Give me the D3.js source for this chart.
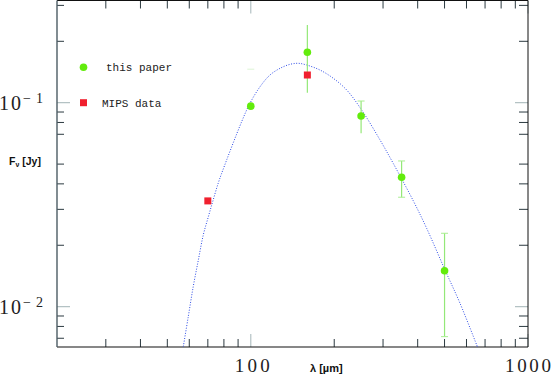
<!DOCTYPE html>
<html>
<head>
<meta charset="utf-8">
<script src="https://cdn.jsdelivr.net/npm/d3@7/dist/d3.min.js"></script>
<style>
body { margin: 0; background: #fff; }
</style>
</head>
<body>
<div id="graph"></div>
<script>
// green points, this paper (wavelength um, flux Jy, error bar ends)
var paperWave = [100, 160, 250, 350, 500];
var paperFlux = [0.0962, 0.1766, 0.0861, 0.0431, 0.0150];
var paperErrHi = [0.146, 0.2404, 0.1019, 0.0518, 0.0229];
var paperErrLo = [0.0962, 0.1119, 0.0708, 0.0344, 0.00713];

// red squares, MIPS
var mipsWave = [70, 160];
var mipsFlux = [0.033, 0.1367];

// fitted curve
var fitWave = [57.1, 59.5, 62.0, 64.7, 67.4, 70.3, 73.2, 76.3, 79.2, 92.7, 99.3, 108.0, 117.3, 127.5, 138.5, 148.4, 159.1, 177.7, 198.5, 221.8, 251.2, 292.5, 326.8, 385.8, 431.1, 501.9, 568.5, 656.5];
var fitFlux = [0.00637, 0.00893, 0.01253, 0.01694, 0.02246, 0.0276, 0.0334, 0.0403, 0.0465, 0.0807, 0.0993, 0.1198, 0.1367, 0.1474, 0.1542, 0.1560, 0.1530, 0.1446, 0.1317, 0.1154, 0.0921, 0.0657, 0.0503, 0.0330, 0.0242, 0.01513, 0.01039, 0.00637];

// ticks
var xMajorTicks = [100, 1000];
var xMinorTicks = [30, 40, 50, 60, 70, 80, 90, 200, 300, 400, 500, 600, 700, 800, 900];
var yMajorTicks = [0.1, 0.01];
var yMinorTicks = [0.3, 0.2, 0.09, 0.08, 0.07, 0.05, 0.04, 0.03, 0.02, 0.009, 0.008, 0.007];
var xTickLabels = ['100', '1000'];
var yTickLabels = ['\u22121', '\u22122'];

var legendLabels = ['this paper', 'MIPS data'];

var sed_plot = {
	init: function () {
		var self = this;
		self.left = 57;
		self.right = 528;
		self.top = 0.5;
		self.bottom = 347;
		self.svg = d3.select('#graph').append('svg')
			.attr('width', 553)
			.attr('height', 376);
		self.x = d3.scaleLog().domain([20, 1000]).range([self.left, self.right]);
		self.y = d3.scaleLog().domain([0.006342, 0.3170]).range([self.bottom, self.top]);
		self.drawFrame();
		self.drawData();
		self.drawLegend();
	},
	drawFrame: function () {
		var self = this;
		var svg = self.svg, x = self.x, y = self.y;
		var minorLen = 8, majorLen = 13;
		var g = svg.append('g').attr('class', 'ticks');

		// bottom + top
		g.selectAll('.xmin').data(xMinorTicks).enter().append('path')
			.attr('d', function (d) {
				var px = x(d);
				return 'M' + px + ',' + self.bottom + 'V' + (self.bottom - minorLen) +
					'M' + px + ',' + self.top + 'V' + (self.top + minorLen);
			})
			.attr('stroke', '#2c3a40').attr('stroke-width', 1);
		g.selectAll('.xmaj').data(xMajorTicks).enter().append('path')
			.attr('d', function (d) {
				var px = x(d);
				return 'M' + px + ',' + self.bottom + 'V' + (self.bottom - majorLen) +
					'M' + px + ',' + self.top + 'V' + (self.top + majorLen);
			})
			.attr('stroke', '#b4c2c4').attr('stroke-width', 1.2);

		// left + right
		g.selectAll('.ymin').data(yMinorTicks).enter().append('path')
			.attr('d', function (d) {
				var py = y(d);
				return 'M' + self.left + ',' + py + 'H' + (self.left + 7) +
					'M' + self.right + ',' + py + 'H' + (self.right - 9);
			})
			.attr('stroke', '#2c3a40').attr('stroke-width', 1);
		g.selectAll('.ymaj').data(yMajorTicks).enter().append('path')
			.attr('d', function (d) {
				var py = y(d);
				return 'M' + self.left + ',' + py + 'H' + (self.left + majorLen) +
					'M' + self.right + ',' + py + 'H' + (self.right - majorLen);
			})
			.attr('stroke', '#b4c2c4').attr('stroke-width', 1.2);

		// frame
		svg.append('line').attr('x1', self.left).attr('x2', self.right)
			.attr('y1', self.top).attr('y2', self.top)
			.attr('stroke', '#111').attr('stroke-width', 1);
		svg.append('line').attr('x1', self.left).attr('x2', self.right)
			.attr('y1', self.bottom).attr('y2', self.bottom)
			.attr('stroke', '#111').attr('stroke-width', 1.2);
		svg.append('line').attr('x1', self.right).attr('x2', self.right)
			.attr('y1', self.top).attr('y2', self.bottom)
			.attr('stroke', '#111').attr('stroke-width', 1);
		svg.append('line').attr('x1', self.left).attr('x2', self.left)
			.attr('y1', self.top).attr('y2', self.bottom)
			.attr('stroke', '#4c5c64').attr('stroke-width', 1.4);

		// tick labels
		var xw = [35, 46];
		svg.selectAll('.xlab').data(xMajorTicks).enter().append('text')
			.attr('x', function (d, i) { return x(d) + (i === 0 ? 1.5 : 0); })
			.attr('y', 372)
			.attr('text-anchor', 'middle')
			.attr('font-family', 'Liberation Serif, serif')
			.attr('font-size', 19)
			.attr('fill', '#222')
			.attr('textLength', function (d, i) { return xw[i]; })
			.attr('lengthAdjust', 'spacing')
			.text(function (d, i) { return xTickLabels[i]; });

		var ylab = svg.selectAll('.ylab').data(yMajorTicks).enter().append('g');
		ylab.append('text')
			.attr('x', -1)
			.attr('y', function (d) { return y(d) + 7.5; })
			.attr('font-family', 'Liberation Serif, serif')
			.attr('font-size', 20)
			.attr('fill', '#222')
			.attr('textLength', 22)
			.attr('lengthAdjust', 'spacing')
			.text('10');
		ylab.append('text')
			.attr('x', 23)
			.attr('y', function (d) { return y(d) + 0.5; })
			.attr('font-family', 'Liberation Serif, serif')
			.attr('font-size', 14)
			.attr('fill', '#222')
			.attr('textLength', 20)
			.attr('lengthAdjust', 'spacing')
			.text(function (d, i) { return yTickLabels[i]; });

		// axis titles
		var yt = svg.append('text')
			.attr('x', 9).attr('y', 165)
			.attr('font-family', 'Liberation Sans, sans-serif')
			.attr('font-weight', 'bold')
			.attr('font-size', 10.5)
			.attr('fill', '#111');
		yt.append('tspan').text('F');
		yt.append('tspan').attr('font-size', 7).attr('dy', 2).text('\u03bd');
		yt.append('tspan').attr('dy', -2).text(' [Jy]');

		svg.append('text')
			.attr('x', 310).attr('y', 372)
			.attr('font-family', 'Liberation Sans, sans-serif')
			.attr('font-weight', 'bold')
			.attr('font-size', 11)
			.attr('fill', '#111')
			.text('\u03bb [\u00b5m]');
	},
	drawData: function () {
		var self = this;
		var svg = self.svg, x = self.x, y = self.y;

		svg.append('clipPath').attr('id', 'clip')
			.append('rect')
			.attr('x', self.left).attr('y', self.top)
			.attr('width', self.right - self.left)
			.attr('height', self.bottom - self.top);

		var fitData = fitWave.map(function (w, i) { return [w, fitFlux[i]]; });
		var line = d3.line()
			.x(function (d) { return x(d[0]); })
			.y(function (d) { return y(d[1]); })
			.curve(d3.curveCatmullRom);
		svg.append('path')
			.datum(fitData)
			.attr('clip-path', 'url(#clip)')
			.attr('d', line)
			.attr('fill', 'none')
			.attr('stroke', '#2d4be6')
			.attr('stroke-width', 1)
			.attr('stroke-dasharray', '1,1.6');

		// error bars (100um one is only a faint cap in the original)
		var eb = svg.append('g').selectAll('g').data(paperWave).enter().append('g');
		eb.filter(function (d, i) { return i > 0; }).append('line')
			.attr('x1', function (d) { return x(d); })
			.attr('x2', function (d) { return x(d); })
			.attr('y1', function (d) { return y(paperErrHi[paperWave.indexOf(d)]); })
			.attr('y2', function (d) { return y(paperErrLo[paperWave.indexOf(d)]); })
			.attr('stroke', '#94e878').attr('stroke-width', 1.2);
		eb.filter(function (d, i) { return i !== 1; }).append('line')
			.attr('x1', function (d) { return x(d) - 3.5; })
			.attr('x2', function (d) { return x(d) + 3.5; })
			.attr('y1', function (d) { return y(paperErrHi[paperWave.indexOf(d)]); })
			.attr('y2', function (d) { return y(paperErrHi[paperWave.indexOf(d)]); })
			.attr('stroke', function (d, i) { return d === 100 ? '#dcf4d4' : '#a8ee90'; })
			.attr('stroke-width', 1);
		eb.filter(function (d, i) { return i > 2; }).append('line')
			.attr('x1', function (d) { return x(d) - 3.5; })
			.attr('x2', function (d) { return x(d) + 3.5; })
			.attr('y1', function (d) { return y(paperErrLo[paperWave.indexOf(d)]); })
			.attr('y2', function (d) { return y(paperErrLo[paperWave.indexOf(d)]); })
			.attr('stroke', '#a8ee90').attr('stroke-width', 1);

		svg.append('g').selectAll('circle').data(paperWave).enter().append('circle')
			.attr('cx', function (d) { return x(d); })
			.attr('cy', function (d, i) { return y(paperFlux[i]); })
			.attr('r', 3.8)
			.attr('fill', '#62ec0c');

		svg.append('g').selectAll('rect').data(mipsWave).enter().append('rect')
			.attr('x', function (d) { return x(d) - 3.5; })
			.attr('y', function (d, i) { return y(mipsFlux[i]) - 3.5; })
			.attr('width', 7).attr('height', 7)
			.attr('fill', '#f0202e');
	},
	drawLegend: function () {
		var self = this;
		var svg = self.svg;
		var lg = svg.append('g');
		lg.append('circle').attr('cx', 83.5).attr('cy', 67.3).attr('r', 3.8).attr('fill', '#62ec0c');
		lg.append('rect').attr('x', 80).attr('y', 99.2).attr('width', 7).attr('height', 7).attr('fill', '#f0202e');
		lg.selectAll('text').data(legendLabels).enter().append('text')
			.attr('x', function (d, i) { return i === 0 ? 106 : 102; })
			.attr('y', function (d, i) { return i === 0 ? 71 : 106.5; })
			.attr('font-family', 'Liberation Mono, monospace')
			.attr('font-size', 11)
			.attr('fill', '#222')
			.text(function (d) { return d; });
	}
};

sed_plot.init();
</script>
</body>
</html>
